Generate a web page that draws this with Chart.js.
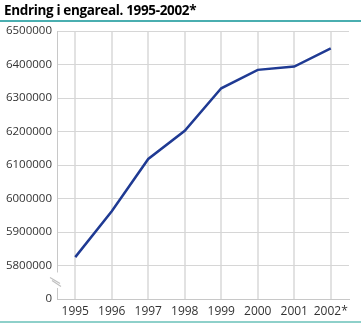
<!DOCTYPE html>
<html>
<head>
<meta charset="utf-8">
<script src="https://cdn.jsdelivr.net/npm/chart.js@4"></script>
<style>
  body { margin: 0; background: #fff; }
  #wrap { position: relative; width: 361px; height: 325px; }
  #title { position: absolute; left: 4px; top: 1px; font: bold 13.5px "Open Sans", sans-serif; letter-spacing: -0.35px; color: #000; }
  #topline { position: absolute; left: 0; top: 20px; width: 361px; height: 2px; background: #4aaeb0; }
  #bottomline { position: absolute; left: 0; top: 321px; width: 361px; height: 2px; background: #8ed0ca; }
  canvas { position: absolute; left: 0; top: 0; }
</style>
</head>
<body>
<div id="wrap">
  <canvas id="engChart" width="361" height="325"></canvas>
  <div id="title">Endring i engareal. 1995-2002*</div>
  <div id="topline"></div>
  <div id="bottomline"></div>
</div>
<script>
const years = ['1995', '1996', '1997', '1998', '1999', '2000', '2001', '2002*'];
const engareal = [5825000, 5962000, 6118000, 6202000, 6329000, 6384000, 6394000, 6448000];
const yTicks = [5700000, 5800000, 5900000, 6000000, 6100000, 6200000, 6300000, 6400000, 6500000];

// the axis is broken: the lowest tick stands for 0
const axisBreak = {
  id: 'axisBreak',
  afterDraw(chart) {
    const ctx = chart.ctx;
    const y = chart.scales.y;
    const x0 = chart.chartArea.left;
    const top = y.getPixelForValue(5800000);
    const bottom = y.getPixelForValue(5700000);
    ctx.save();
    ctx.fillStyle = '#fff';
    ctx.fillRect(x0 - 2, top + 7, 4, bottom - top - 18);
    ctx.strokeStyle = '#c0c0c0';
    ctx.lineWidth = 1.2;
    ctx.beginPath();
    ctx.moveTo(x0 - 7, top + 12);
    ctx.lineTo(x0 + 3, top + 18);
    ctx.moveTo(x0 - 5, top + 15);
    ctx.lineTo(x0 + 4, top + 21);
    ctx.stroke();
    ctx.restore();
  }
};

new Chart(document.getElementById('engChart'), {
  type: 'line',
  data: {
    labels: years,
    datasets: [{
      data: engareal,
      borderColor: '#1f3a93',
      borderWidth: 2.5,
      pointRadius: 0,
      tension: 0
    }]
  },
  options: {
    responsive: false,
    animation: false,
    layout: { padding: { top: 31, left: 0, right: 12, bottom: 4 } },
    plugins: {
      legend: { display: false },
      tooltip: { enabled: false }
    },
    scales: {
      x: {
        offset: true,
        grid: { color: '#e2e2e2', lineWidth: 2, drawTicks: false },
        border: { color: '#c8c8c8' },
        ticks: {
          padding: 5,
          color: '#333',
          font: { family: 'Open Sans', size: 12 },
          autoSkip: false,
          maxRotation: 0
        },
        afterFit(scale) { scale.height = 22; }
      },
      y: {
        min: 5700000,
        max: 6500000,
        afterBuildTicks(scale) {
          scale.ticks = yTicks.map(v => ({ value: v }));
        },
        grid: { color: '#d6d6d6', lineWidth: 1, drawTicks: false },
        border: { color: '#c8c8c8' },
        ticks: {
          padding: 5,
          color: '#333',
          font: { family: 'Open Sans', size: 11.5 },
          callback: function(value) {
            return value === 5700000 ? '0' : String(value);
          }
        },
        afterFit(scale) { scale.width = 57; }
      }
    }
  },
  plugins: [axisBreak]
});
</script>
</body>
</html>
